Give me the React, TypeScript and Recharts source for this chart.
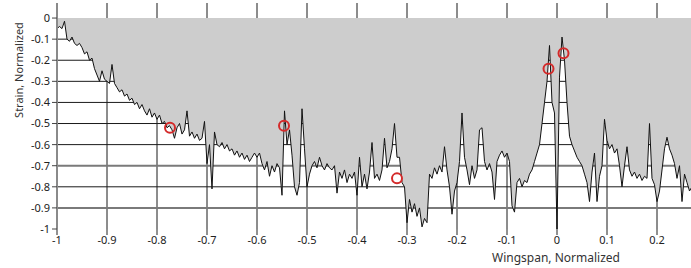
import {
  ComposedChart,
  Area,
  Scatter,
  XAxis,
  YAxis,
  CartesianGrid,
  Label,
} from 'recharts'

// sampled strain along the wingspan, one value every X_STEP starting at X_START
const X_START = -1
const X_STEP = 0.005
const STRAIN = [
  -0.05, -0.04, -0.05, -0.015, -0.10, -0.11, -0.09, -0.12, -0.13, -0.12,
  -0.14, -0.17, -0.16, -0.20, -0.19, -0.24, -0.27, -0.30, -0.25, -0.29,
  -0.30, -0.31, -0.22, -0.31, -0.33, -0.35, -0.34, -0.37, -0.36, -0.39,
  -0.38, -0.41, -0.40, -0.43, -0.41, -0.44, -0.46, -0.43, -0.47, -0.45,
  -0.48, -0.46, -0.50, -0.49, -0.52, -0.51, -0.53, -0.57, -0.52, -0.50,
  -0.55, -0.53, -0.44, -0.56, -0.54, -0.57, -0.55, -0.58, -0.57, -0.49,
  -0.69, -0.60, -0.81, -0.54, -0.60, -0.61, -0.59, -0.62, -0.60, -0.63,
  -0.62, -0.65, -0.63, -0.66, -0.64, -0.67, -0.65, -0.68, -0.66, -0.64,
  -0.66, -0.64, -0.69, -0.72, -0.68, -0.75, -0.70, -0.73, -0.69, -0.71,
  -0.84, -0.44, -0.60, -0.53, -0.65, -0.80, -0.84, -0.78, -0.43, -0.62,
  -0.80, -0.74, -0.70, -0.68, -0.71, -0.66, -0.70, -0.72, -0.69, -0.71,
  -0.72, -0.70, -0.83, -0.73, -0.76, -0.72, -0.78, -0.74, -0.76, -0.73,
  -0.84, -0.66, -0.80, -0.74, -0.81, -0.73, -0.59, -0.76, -0.74, -0.77,
  -0.72, -0.57, -0.71, -0.68, -0.62, -0.50, -0.66, -0.66, -0.78, -0.80,
  -0.97, -0.86, -0.92, -0.88, -0.94, -0.90, -0.99, -0.95, -0.97, -0.74,
  -0.76, -0.71, -0.74, -0.70, -0.73, -0.61, -0.72, -0.80, -0.93, -0.82,
  -0.78, -0.68, -0.45, -0.66, -0.72, -0.79, -0.70, -0.76, -0.72, -0.53,
  -0.52, -0.68, -0.72, -0.69, -0.73, -0.86, -0.68, -0.65, -0.63, -0.66,
  -0.64, -0.68, -0.89, -0.92, -0.78, -0.76, -0.80, -0.77, -0.78, -0.74,
  -0.72, -0.68, -0.64, -0.60, -0.50, -0.40, -0.30, -0.13, -0.40, -0.45,
  -1.00, -0.28, -0.09, -0.20, -0.40, -0.56, -0.60, -0.63, -0.66, -0.68,
  -0.70, -0.74, -0.78, -0.87, -0.73, -0.64, -0.87, -0.75, -0.70, -0.48,
  -0.58, -0.62, -0.60, -0.64, -0.62, -0.70, -0.80, -0.70, -0.61, -0.72,
  -0.75, -0.73, -0.76, -0.74, -0.77, -0.75, -0.76, -0.50, -0.76, -0.79,
  -0.87, -0.82, -0.72, -0.62, -0.565, -0.62, -0.65, -0.69, -0.76, -0.70,
  -0.87, -0.74, -0.78, -0.82, -0.80,
]

// red circle markers
const MARK_X = [-0.774, -0.546, -0.32, -0.017, 0.013]
const MARK_Y = [-0.52, -0.51, -0.76, -0.24, -0.167]

const X_TICKS = [-1, -0.9, -0.8, -0.7, -0.6, -0.5, -0.4, -0.3, -0.2, -0.1, 0, 0.1, 0.2]
const Y_TICKS = [0, -0.1, -0.2, -0.3, -0.4, -0.5, -0.6, -0.7, -0.8, -0.9, -1]
const GRID_DARK = [-0.1, -0.2, -0.3, -0.4, -0.5, -0.6, -0.8]
const GRID_LIGHT = [-0.7, -0.9]

const rows = STRAIN.map((v, i) => ({ x: X_START + i * X_STEP, y: v }))
const marks = MARK_X.map((x, i) => ({ x, y: MARK_Y[i] }))

const FONT = '"Noto Sans", "DejaVu Sans", sans-serif'

const Ring = (props: any) => {
  const { cx, cy } = props
  if (cx == null || cy == null) return null
  return <circle cx={cx} cy={cy} r={5} fill="none" stroke="#d42a2a" strokeWidth={2} />
}

export default function App() {
  return (
    <div style={{ position: 'absolute', left: 0, top: 0, width: 691, height: 268, background: '#fff' }}>
      <ComposedChart
        width={691}
        height={268}
        data={rows}
        margin={{ top: 3, right: 0, bottom: 9, left: 0 }}
      >
        <CartesianGrid
          horizontalValues={GRID_DARK}
          verticalValues={X_TICKS}
          stroke="#1a1a1a"
          strokeWidth={1}
        />
        <CartesianGrid
          horizontalValues={GRID_LIGHT}
          vertical={false}
          stroke="#7a7a7a"
          strokeWidth={2}
        />
        <XAxis
          type="number"
          dataKey="x"
          domain={[-1, 0.268]}
          allowDataOverflow
          ticks={X_TICKS}
          interval={0}
          height={30}
          axisLine={false}
          tickLine={{ stroke: '#222' }}
          tickSize={6}
          tickMargin={1}
          tick={{ fontSize: 11, fill: '#222', fontFamily: FONT }}
        >
          <Label
            content={() => (
              <text x={556} y={262} textAnchor="middle" fontSize={12} fill="#333" fontFamily={FONT}>
                Wingspan, Normalized
              </text>
            )}
          />
        </XAxis>
        <YAxis
          type="number"
          domain={[-1, 0.0714]}
          allowDataOverflow
          ticks={Y_TICKS}
          interval={0}
          width={57}
          axisLine={{ stroke: '#8a8a8a', strokeWidth: 2 }}
          tickLine={{ stroke: '#444' }}
          tickSize={5}
          tickMargin={2}
          tick={{ fontSize: 11, fill: '#222', fontFamily: FONT }}
        >
          <Label
            content={() => (
              <text
                x={18}
                y={70}
                textAnchor="middle"
                dominantBaseline="central"
                transform="rotate(-90 18 70)"
                fontSize={11}
                fill="#333"
                fontFamily={FONT}
              >
                Strain, Normalized
              </text>
            )}
          />
        </YAxis>
        <Area
          type="linear"
          dataKey="y"
          baseValue={0}
          stroke="#111"
          strokeWidth={1}
          fill="#cdcdcd"
          fillOpacity={1}
          dot={false}
          activeDot={false}
          isAnimationActive={false}
        />
        <Scatter data={marks} dataKey="y" shape={<Ring />} isAnimationActive={false} />
      </ComposedChart>
    </div>
  )
}
